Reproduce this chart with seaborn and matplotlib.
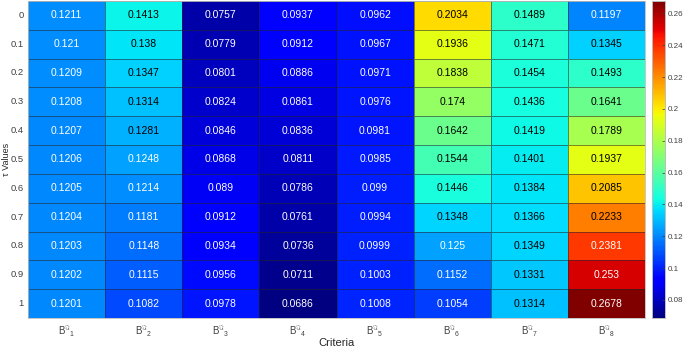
import numpy as np
import pandas as pd
import matplotlib
matplotlib.use('Agg')
import matplotlib.pyplot as plt
import seaborn as sns

# datos
tau = ['0', '0.1', '0.2', '0.3', '0.4', '0.5', '0.6', '0.7', '0.8', '0.9', '1']
criteria = [r'$\mathrm{B}^{\Im}{}_{%d}$' % i for i in range(1, 9)]

b1 = [0.1211, 0.121, 0.1209, 0.1208, 0.1207, 0.1206, 0.1205, 0.1204, 0.1203, 0.1202, 0.1201]
b2 = [0.1413, 0.138, 0.1347, 0.1314, 0.1281, 0.1248, 0.1214, 0.1181, 0.1148, 0.1115, 0.1082]
b3 = [0.0757, 0.0779, 0.0801, 0.0824, 0.0846, 0.0868, 0.089, 0.0912, 0.0934, 0.0956, 0.0978]
b4 = [0.0937, 0.0912, 0.0886, 0.0861, 0.0836, 0.0811, 0.0786, 0.0761, 0.0736, 0.0711, 0.0686]
b5 = [0.0962, 0.0967, 0.0971, 0.0976, 0.0981, 0.0985, 0.099, 0.0994, 0.0999, 0.1003, 0.1008]
b6 = [0.2034, 0.1936, 0.1838, 0.174, 0.1642, 0.1544, 0.1446, 0.1348, 0.125, 0.1152, 0.1054]
b7 = [0.1489, 0.1471, 0.1454, 0.1436, 0.1419, 0.1401, 0.1384, 0.1366, 0.1349, 0.1331, 0.1314]
b8 = [0.1197, 0.1345, 0.1493, 0.1641, 0.1789, 0.1937, 0.2085, 0.2233, 0.2381, 0.253, 0.2678]

cbar_ticks = [0.08, 0.1, 0.12, 0.14, 0.16, 0.18, 0.2, 0.22, 0.24, 0.26]

df = pd.DataFrame(np.column_stack([b1, b2, b3, b4, b5, b6, b7, b8]), index=tau, columns=criteria)
labels = df.map(lambda v: '%.4g' % v)

plt.rcParams['font.family'] = ['Liberation Sans', 'DejaVu Sans']
plt.rcParams['mathtext.fontset'] = 'custom'
plt.rcParams['mathtext.rm'] = 'Liberation Sans'
plt.rcParams['mathtext.it'] = 'Liberation Sans:italic'

fig = plt.figure(figsize=(6.85, 3.5), dpi=100)
ax = fig.add_axes([0.041, 0.0914, 0.9006, 0.906])
cax = fig.add_axes([0.952, 0.0914, 0.019, 0.906])

vmin, vmax = df.values.min(), df.values.max()
sns.heatmap(df, ax=ax, cbar_ax=cax, cmap='jet', vmin=vmin, vmax=vmax,
            annot=labels, fmt='', annot_kws={'fontsize': 7.5},
            linewidths=0.6, linecolor=(0.15, 0.15, 0.15, 0.55))

# color del texto segun la luminancia de la celda
cmap = plt.get_cmap('jet')
for txt, v in zip(ax.texts, df.values.flatten()):
    r, g, b, _ = cmap((v - vmin) / (vmax - vmin))
    lum = 0.299 * r + 0.587 * g + 0.114 * b
    txt.set_color('black' if lum > 0.5 else 'white')

for s in ax.spines.values():
    s.set_visible(True)
    s.set_color('#bdbdbd')
    s.set_linewidth(0.6)

ax.tick_params(axis='both', length=0, labelsize=7, colors='#404040')
ax.tick_params(axis='y', pad=3, labelsize=6.8)
ax.tick_params(axis='x', pad=4)
ax.set_yticklabels(tau, rotation=0)
ax.set_xticklabels(criteria, rotation=0)
ax.set_xlabel('Criteria', fontsize=8, color='#262626')
ax.set_ylabel('\u03c4 Values', fontsize=6.5, color='#262626')
ax.xaxis.set_label_coords(0.5, -0.062)
ax.yaxis.set_label_coords(-0.0272, 0.5)

cax.set_yticks(cbar_ticks)
cax.set_yticklabels([('%g' % t) for t in cbar_ticks])
cax.tick_params(labelsize=5.8, colors='#404040', length=2, width=0.5, pad=2, direction='in')
for s in cax.spines.values():
    s.set_visible(True)
    s.set_color('#bdbdbd')
    s.set_linewidth(0.6)

fig.savefig('out.png', dpi=100)
